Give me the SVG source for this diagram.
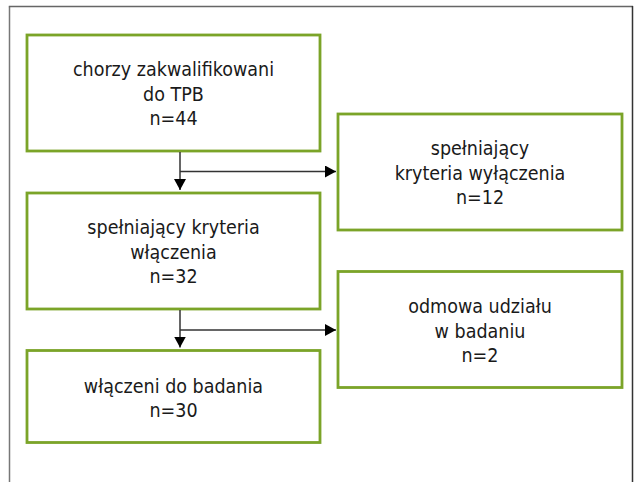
<svg xmlns="http://www.w3.org/2000/svg" width="634" height="482" viewBox="0 0 634 482">
<defs>
<style>
.box{fill:#ffffff;stroke:#7ba428;stroke-width:2.8}
.t{font-family:"DejaVu Sans Condensed","DejaVu Sans",sans-serif;font-stretch:condensed;font-size:19.5px;fill:#1a1a1a;text-anchor:middle}
.ln{fill:none;stroke:#333333;stroke-width:1.5}
</style>
<marker id="ah" markerWidth="11" markerHeight="12" refX="11" refY="6" orient="auto" markerUnits="userSpaceOnUse">
<path d="M0,0 L11,6 L0,12 Z" fill="#000000"/>
</marker>
</defs>
<rect width="634" height="482" fill="#ffffff"/>
<g id="frame">
<line x1="9.5" y1="6.5" x2="9.5" y2="482" stroke="#777777" stroke-width="1.5"/>
<line x1="8.8" y1="6.5" x2="633" y2="6.5" stroke="#666666" stroke-width="1.5"/>
<line x1="632.5" y1="6" x2="632.5" y2="482" stroke="#333333" stroke-width="1.5"/>
</g>
<g id="n1">
<rect class="box" x="27" y="35" width="293" height="116"/>
<text class="t" x="173.5" y="76">chorzy zakwalifikowani</text>
<text class="t" x="173.5" y="100.5">do TPB</text>
<text class="t" x="173.5" y="125">n=44</text>
</g>
<g id="n2">
<rect class="box" x="338" y="114" width="284" height="116"/>
<text class="t" x="480" y="155">spełniający</text>
<text class="t" x="480" y="179.5">kryteria wyłączenia</text>
<text class="t" x="480" y="204">n=12</text>
</g>
<g id="n3">
<rect class="box" x="27" y="193" width="293" height="116"/>
<text class="t" x="173.5" y="234">spełniający kryteria</text>
<text class="t" x="173.5" y="258.5">włączenia</text>
<text class="t" x="173.5" y="283">n=32</text>
</g>
<g id="n4">
<rect class="box" x="27" y="350.5" width="293" height="92"/>
<text class="t" x="173.5" y="392.7">włączeni do badania</text>
<text class="t" x="173.5" y="416.7">n=30</text>
</g>
<g id="n5">
<rect class="box" x="338" y="271.5" width="284" height="116"/>
<text class="t" x="480" y="313">odmowa udziału</text>
<text class="t" x="480" y="337.5">w badaniu</text>
<text class="t" x="480" y="362">n=2</text>
</g>
<g id="connectors">
<line class="ln" x1="180" y1="152" x2="180" y2="190" marker-end="url(#ah)"/>
<line class="ln" x1="180" y1="171.5" x2="336" y2="171.5" marker-end="url(#ah)"/>
<line class="ln" x1="180" y1="310" x2="180" y2="347.5" marker-end="url(#ah)"/>
<line class="ln" x1="180" y1="330" x2="336" y2="330" marker-end="url(#ah)"/>
</g>
</svg>
